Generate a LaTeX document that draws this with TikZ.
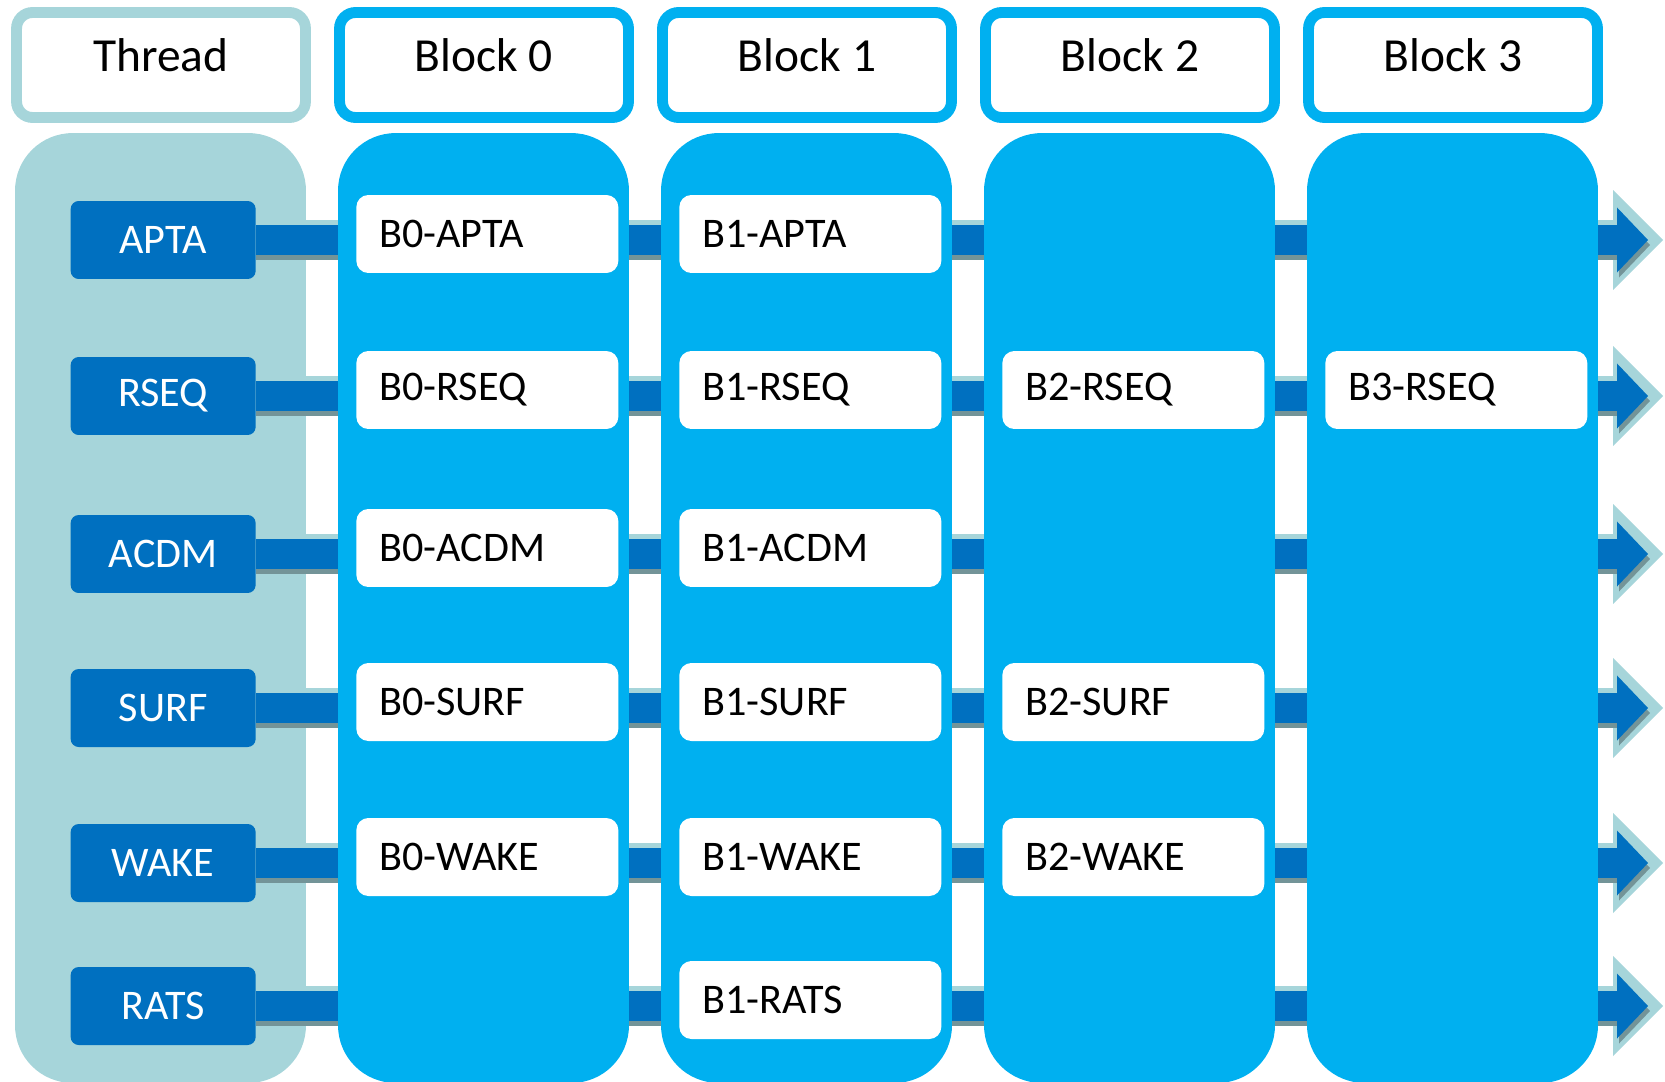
\documentclass[tikz,border=0pt]{standalone}
\usepackage{fontspec}
\setmainfont{Carlito}
\usetikzlibrary{arrows.meta}

\definecolor{threadteal}{RGB}{166,213,218}
\definecolor{blockblue}{RGB}{0,176,240}
\definecolor{taskblue}{RGB}{0,112,192}

\begin{document}
\begin{tikzpicture}[x=0.02cm, y=-0.02cm,
    headbox/.style={draw=#1, line width=6.2pt, fill=white, rounded corners=0.32cm,
        minimum width=5.78cm, minimum height=2.1cm, text height=0.6cm, text depth=0.32cm,
        font=\fontsize{27}{32}\selectfont},
    colbody/.style={fill=#1, rounded corners=1.15cm, minimum width=5.82cm, minimum height=19cm},
    tasklabel/.style={fill=taskblue, text=white, rounded corners=0.16cm, minimum width=3.7cm,
        minimum height=1.56cm, font=\fontsize{24}{29}\selectfont},
    taskbox/.style={fill=white, rounded corners=0.24cm, text width=4.32cm, inner xsep=0.46cm,
        minimum height=1.56cm, align=left, font=\fontsize{24}{29}\selectfont},
    outerarrow/.style={draw=threadteal, line width=0.8cm,
        -{Triangle[length=1cm, width=2cm, line width=0pt]}},
    shadowarrow/.style={draw=black, opacity=0.3, line width=0.6cm, shorten >=0.26cm,
        -{Triangle[length=0.62cm, width=1.3cm, line width=0pt]}},
    innerarrow/.style={draw=taskblue, line width=0.6cm, shorten >=0.3cm,
        -{Triangle[length=0.62cm, width=1.3cm, line width=0pt]}}]

    % 画布大小
    \useasboundingbox (0,0) rectangle (1665,1081);

    % 线程列
    \node[colbody=threadteal] (c0) at (160.5,608) {};

    % 线程标签与箭头终点
    \foreach \rname/\ry in {APTA/240, RSEQ/396, ACDM/554, SURF/708, WAKE/863, RATS/1006} {
        \node[tasklabel, anchor=east] (t\rname) at (256,\ry) {\rname};
        \coordinate (e\rname) at (1663,\ry);
    }

    % 箭头
    \foreach \rname in {APTA, RSEQ, ACDM, SURF, WAKE, RATS} {
        \draw[outerarrow] (t\rname.east) -- (e\rname);
        \draw[shadowarrow] ([yshift=-0.1cm]t\rname.east) -- ([yshift=-0.1cm]e\rname);
        \draw[innerarrow] (t\rname.east) -- (e\rname);
    }

    % 块列
    \foreach \i in {1,...,4}
        \node[colbody=blockblue] (c\i) at (160.5+323*\i,608) {};

    % 表头
    \node[headbox=threadteal] (hT) at (161,65) {Thread};
    \foreach \i in {0,...,3}
        \node[headbox=blockblue] (h\i) at (484+323*\i,65) {Block \i};

    % 各块中的任务
    \foreach \blk/\rname/\ry in {0/APTA/234, 0/RSEQ/390, 0/ACDM/548, 0/SURF/702, 0/WAKE/857,
                               1/APTA/234, 1/RSEQ/390, 1/ACDM/548, 1/SURF/702, 1/WAKE/857, 1/RATS/1000,
                               2/RSEQ/390, 2/SURF/702, 2/WAKE/857,
                               3/RSEQ/390}
        \node[taskbox, anchor=west] (b\blk\rname) at (356+323*\blk,\ry) {B\blk-\rname};
\end{tikzpicture}
\end{document}
